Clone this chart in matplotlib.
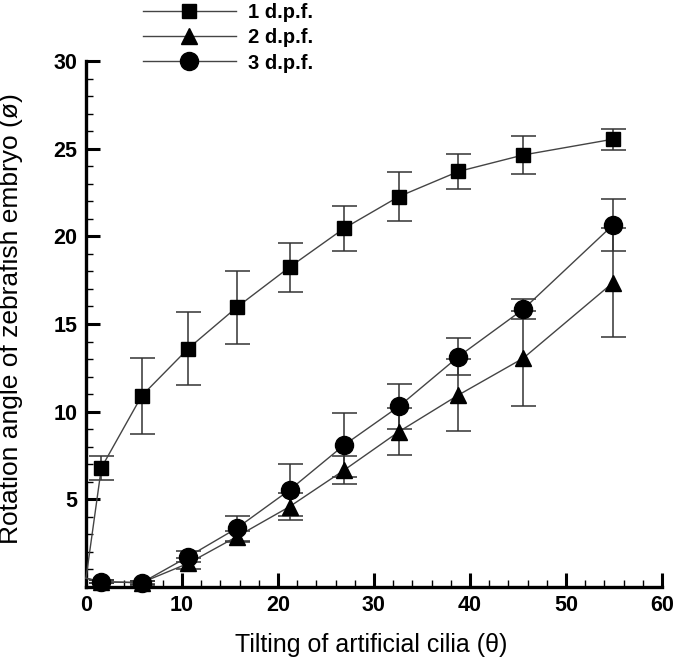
import matplotlib

matplotlib.use("Agg")
import matplotlib.pyplot as plt
from matplotlib.ticker import MultipleLocator

plt.rcParams["font.family"] = ["Liberation Sans", "DejaVu Sans"]

# tilting angle of the cilia (theta); first entry is the line start at the origin
tilt = [0.0, 1.6, 5.8, 10.65, 15.7, 21.2, 26.9, 32.6, 38.8, 45.55, 54.9]

dpf1 = [0.5, 6.8, 10.9, 13.6, 15.95, 18.24, 20.46, 22.27, 23.7, 24.64, 25.54]
dpf1_err = [0.0, 0.7, 2.15, 2.1, 2.1, 1.4, 1.27, 1.4, 1.0, 1.07, 0.6]

dpf2 = [0.5, 0.3, 0.25, 1.35, 2.87, 4.58, 6.67, 8.86, 10.95, 13.05, 17.36]
dpf2_err = [0.0, 0.1, 0.1, 0.3, 0.3, 0.76, 0.8, 1.33, 2.03, 2.7, 3.1]

dpf3 = [0.5, 0.3, 0.24, 1.73, 3.35, 5.53, 8.1, 10.3, 13.14, 15.84, 20.65]
dpf3_err = [0.0, 0.1, 0.1, 0.3, 0.7, 1.5, 1.8, 1.28, 1.05, 0.57, 1.47]

series = [
    ("1 d.p.f.", dpf1, dpf1_err, "s", 9.5),
    ("2 d.p.f.", dpf2, dpf2_err, "^", 11),
    ("3 d.p.f.", dpf3, dpf3_err, "o", 13),
]

fig = plt.figure(figsize=(6.75, 6.58), dpi=100)
ax = fig.add_axes([0.1274, 0.1079, 0.8533, 0.7994])

handles = []
for label, vals, errs, marker, ms in series:
    ax.errorbar(
        tilt[1:], vals[1:], yerr=errs[1:], fmt="none",
        ecolor="#333333", elinewidth=1.1, capsize=9, capthick=1.1, zorder=2,
    )
    (h,) = ax.plot(
        tilt, vals, color="#444444", lw=1.0, marker=marker, ms=ms,
        mfc="black", mec="black", markevery=list(range(1, len(tilt))),
        label=label, zorder=3, clip_on=False,
    )
    handles.append(h)

ax.set_xlim(0, 60)
ax.set_ylim(0, 30)
ax.xaxis.set_major_locator(MultipleLocator(10))
ax.xaxis.set_minor_locator(MultipleLocator(2))
ax.yaxis.set_major_locator(MultipleLocator(5))
ax.yaxis.set_minor_locator(MultipleLocator(1))
ax.set_yticks([5, 10, 15, 20, 25, 30])

for side in ("top", "right"):
    ax.spines[side].set_visible(False)
for side in ("left", "bottom"):
    ax.spines[side].set_linewidth(2.4)

ax.tick_params(which="major", direction="in", length=10, width=2.2,
               labelsize=15.5, pad=6)
ax.tick_params(which="minor", direction="in", length=5, width=1.0)
for lab in ax.get_xticklabels() + ax.get_yticklabels():
    lab.set_fontweight("bold")

ax.set_xlabel("Tilting of artificial cilia (\u03b8)", fontsize=18)
ax.set_ylabel("Rotation angle of zebrafish embryo (\u00f8)", fontsize=19)
ax.xaxis.set_label_coords(0.495, -0.087)
ax.yaxis.set_label_coords(-0.11, 0.51)

fig.legend(
    handles=handles, loc="upper left", bbox_to_anchor=(0.2, 1.007),
    frameon=False, prop={"weight": "bold", "size": 14.5},
    handlelength=4.6, handletextpad=0.6, labelspacing=0.3, borderaxespad=0,
)

fig.savefig("out.png", dpi=100)
